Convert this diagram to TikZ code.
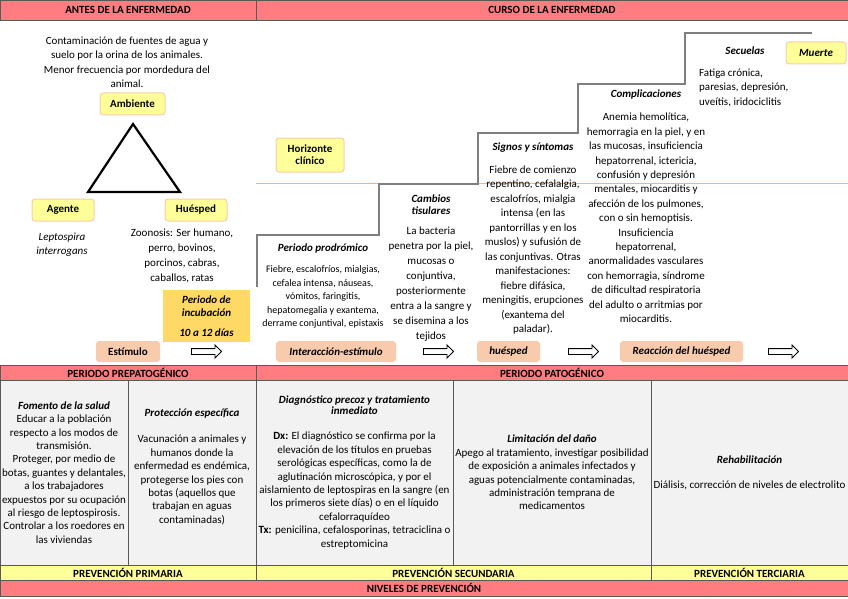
\documentclass[tikz,border=0pt]{standalone}
\usepackage{fontspec}
\setmainfont{Carlito}
\usetikzlibrary{shapes.arrows}
\definecolor{hdrred}{HTML}{FF7C80}
\definecolor{lightyel}{HTML}{FFFF99}
\definecolor{peach}{HTML}{F8CBAD}
\definecolor{peachline}{HTML}{F4B183}
\definecolor{gold}{HTML}{FFD966}
\definecolor{cellgray}{HTML}{F2F2F2}
\definecolor{stair}{HTML}{7F7F7F}
\tikzset{
  hdr/.style={draw=black!65,fill=hdrred,inner sep=0pt,font=\fontsize{11}{12}\selectfont\bfseries},
  yelbox/.style={draw=peach,line width=1pt,fill=lightyel,rounded corners=3pt,inner sep=0pt,align=center,font=\fontsize{11}{12}\selectfont\bfseries},
  pchbox/.style={fill=peach,rounded corners=3pt,inner sep=0pt,minimum height=21,font=\fontsize{11}{12}\selectfont\bfseries\itshape},
  ttl/.style={inner sep=0pt,align=center,font=\fontsize{11}{12}\selectfont\bfseries\itshape},
  txt/.style={inner sep=0pt,align=center,font=\fontsize{11}{14.5}\selectfont},
  cell/.style={draw=black!65,fill=cellgray,minimum height=185,inner sep=1pt,align=center,font=\fontsize{11}{13.4}\selectfont},
  prev/.style={draw=black!65,fill=lightyel,minimum height=15,inner sep=0pt,font=\fontsize{11}{12}\selectfont\bfseries},
  harrow/.style={single arrow,draw,fill=white,line width=0.9pt,minimum height=30,inner sep=2.5pt,single arrow head extend=3.5pt,single arrow head indent=0pt}
}
\begin{document}
\begin{tikzpicture}[x=1pt,y=-1pt]
  \useasboundingbox (0,0) rectangle (848,599);
  \node[hdr,minimum width=256,minimum height=20] (antes) at (128,10) {ANTES DE LA ENFERMEDAD};
  \node[hdr,minimum width=592,minimum height=20] (curso) at (552,10) {CURSO DE LA ENFERMEDAD};

  \node[txt] (amb-txt) at (127,62) {Contaminación de fuentes de agua y\\suelo por la orina de los animales.\\Menor frecuencia por mordedura del\\animal.};
  \node[yelbox,minimum width=65,minimum height=22] (ambiente) at (132.5,104) {Ambiente};
  \draw[line width=2.2pt] (133,124) -- (88,192) -- (180,192) -- cycle;
  \node[yelbox,minimum width=62,minimum height=22] (agente) at (63,210) {Agente};
  \node[yelbox,minimum width=62,minimum height=22] (huesped) at (196,210) {Huésped};
  \node[txt,font=\fontsize{11}{14}\selectfont\itshape] (lepto) at (62,245) {Leptospira\\interrogans};
  \node[txt,font=\fontsize{11}{15}\selectfont] (zoonosis) at (182,255.5) {Zoonosis: Ser humano,\\perro, bovinos,\\porcinos, cabras,\\caballos, ratas};
  \node[fill=gold,minimum width=87,minimum height=52,inner sep=0pt,align=center,font=\fontsize{11}{13}\selectfont\bfseries\itshape] (incub) at (206.5,316) {Periodo de\\incubación\\[7pt]10 a 12 días};
  \node[pchbox,minimum width=64,font=\fontsize{11}{12}\selectfont\bfseries] (estimulo) at (128,351.5) {Estímulo};
  \node[harrow] (ar1) at (205,351.5) {};

  \node[yelbox,minimum width=68,minimum height=34,font=\fontsize{11}{12}\selectfont\bfseries] (horizonte) at (310,155) {Horizonte\\clínico};
  \draw[peachline,line width=0.6pt] (256,183) -- (848,183);
  \draw[stair,line width=1.2pt] (257,287) |- (379,235) |- (478,184) |- (578,133) |- (685,84) |- (812,33);

  \node[ttl] (prodromo) at (323,249) {Periodo prodrómico};
  \node[txt,font=\fontsize{10}{13.5}\selectfont] (prodromo-txt) at (323,297) {Fiebre, escalofríos, mialgias,\\cefalea intensa, náuseas,\\vómitos, faringitis,\\hepatomegalia y exantema,\\derrame conjuntival, epistaxis};
  \node[ttl] (cambios) at (431,205) {Cambios\\tisulares};
  \node[txt,font=\fontsize{11}{14.9}\selectfont] (cambios-txt) at (431,284) {La bacteria\\penetra por la piel,\\mucosas o\\conjuntiva,\\posteriormente\\entra a la sangre y\\se disemina a los\\tejidos};
  \node[ttl] (signos) at (533,148) {Signos y síntomas};
  \node[txt] (signos-txt) at (533,250) {Fiebre de comienzo\\repentino, cefalalgia,\\escalofríos, mialgia\\intensa (en las\\pantorrillas y en los\\muslos) y sufusión de\\las conjuntivas. Otras\\manifestaciones:\\fiebre difásica,\\meningitis, erupciones\\(exantema del\\paladar).};
  \node[ttl] (complica) at (646,95) {Complicaciones};
  \node[txt,font=\fontsize{11}{14.4}\selectfont] (complica-txt) at (646,218) {Anemia hemolítica,\\hemorragia en la piel, y en\\las mucosas, insuficiencia\\hepatorrenal, ictericia,\\confusión y depresión\\mentales, miocarditis y\\afección de los pulmones,\\con o sin hemoptisis.\\Insuficiencia\\hepatorrenal,\\anormalidades vasculares\\con hemorragia, síndrome\\de dificultad respiratoria\\del adulto o arritmias por\\miocarditis.};
  \node[ttl] (secuelas) at (745,51) {Secuelas};
  \node[txt,anchor=west,align=left] (secuelas-txt) at (699,87.5) {Fatiga crónica,\\paresias, depresión,\\uveítis, iridociclitis};
  \node[yelbox,minimum width=60,minimum height=22,font=\fontsize{11}{12}\selectfont\bfseries\itshape] (muerte) at (816,53) {Muerte};

  \node[pchbox,minimum width=120] (interac) at (336,351.5) {Interacción-estímulo};
  \node[harrow] (ar2) at (437,351.5) {};
  \node[pchbox,minimum width=63] (huesped2) at (508.5,351.5) {huésped};
  \node[harrow] (ar3) at (582,351.5) {};
  \node[pchbox,minimum width=123] (reaccion) at (681.5,351.5) {Reacción del huésped};
  \node[harrow] (ar4) at (782,351.5) {};

  \node[hdr,minimum width=256,minimum height=15] (prepat) at (128,372.5) {PERIODO PREPATOGÉNICO};
  \node[hdr,minimum width=592,minimum height=15] (pat) at (552,372.5) {PERIODO PATOGÉNICO};
  \node[cell,minimum width=128] (fomento) at (64,472.5) {\textbf{\textit{Fomento de la salud}}\\Educar a la población\\respecto a los modos de\\transmisión.\\Proteger, por medio de\\botas, guantes y delantales,\\a los trabajadores\\expuestos por su ocupación\\al riesgo de leptospirosis.\\Controlar a los roedores en\\las viviendas};
  \node[cell,minimum width=128] (proteccion) at (192,472.5) {\textbf{\textit{Protección específica}}\\~\\Vacunación a animales y\\humanos donde la\\enfermedad es endémica,\\protegerse los pies con\\botas (aquellos que\\trabajan en aguas\\contaminadas)\\~};
  \node[cell,minimum width=197] (diagnost) at (354.5,472.5) {\textbf{\textit{Diagnóstico precoz y tratamiento}}\\[-2.4pt]\textbf{\textit{inmediato}}\\[11.6pt]\textbf{Dx:} El diagnóstico se confirma por la\\elevación de los títulos en pruebas\\serológicas específicas, como la de\\aglutinación microscópica, y por el\\aislamiento de leptospiras en la sangre (en\\los primeros siete días) o en el líquido\\cefalorraquídeo\\\textbf{Tx:} penicilina, cefalosporinas, tetraciclina o\\estreptomicina};
  \node[cell,minimum width=198] (limitacion) at (552,472.5) {\textbf{\textit{Limitación del daño}}\\Apego al tratamiento, investigar posibilidad\\de exposición a animales infectados y\\aguas potencialmente contaminadas,\\administración temprana de\\medicamentos};
  \node[cell,minimum width=197,font=\fontsize{11}{12.5}\selectfont] (rehab) at (749.5,472.5) {\textbf{\textit{Rehabilitación}}\\~\\Diálisis, corrección de niveles de electrolito};
  \node[prev,minimum width=256] (primaria) at (128,572.5) {PREVENCIÓN PRIMARIA};
  \node[prev,minimum width=395] (secundaria) at (453.5,572.5) {PREVENCIÓN SECUNDARIA};
  \node[prev,minimum width=197] (terciaria) at (749.5,572.5) {PREVENCIÓN TERCIARIA};
  \node[hdr,minimum width=848,minimum height=16] (niveles) at (424,588) {NIVELES DE PREVENCIÓN};
\end{tikzpicture}
\end{document}
